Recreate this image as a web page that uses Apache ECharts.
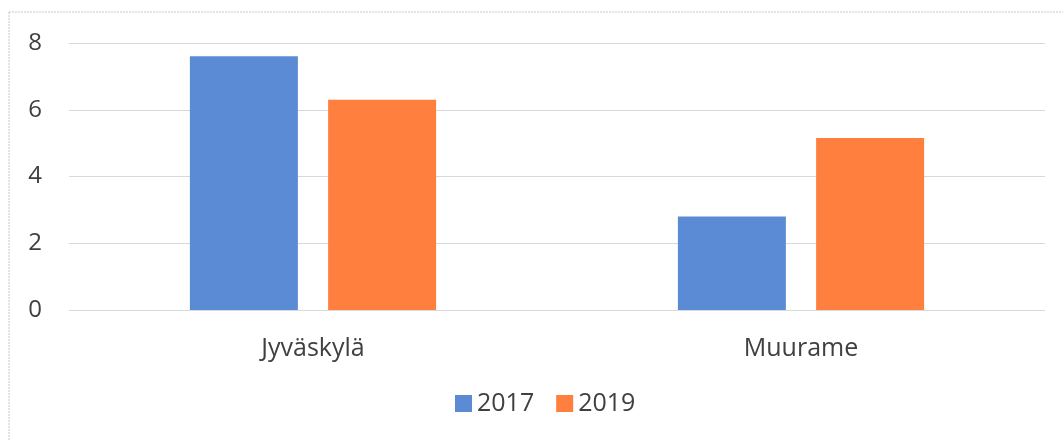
<!DOCTYPE html>
<html>
<head>
<meta charset="utf-8">
<script src="https://cdn.jsdelivr.net/npm/echarts@6/dist/echarts.min.js"></script>
<style>
  html, body { margin: 0; padding: 0; background: #fff; }
  #chart { width: 1063px; height: 441px; }
</style>
</head>
<body>
<div id="chart"></div>
<script>
const categories = ['Jyväskylä', 'Muurame']
const seriesNames = ['2017', '2019']
const values2017 = [7.6, 2.8]
const values2019 = [6.3, 5.15]

const colors = ['#5b8bd5', '#fe7f3e']
const fontFamily = '"Open Sans", Lato, sans-serif'

const chart = echarts.init(document.getElementById('chart'))

const option = {
  backgroundColor: '#fff',
  animation: false,
  textStyle: { fontFamily },
  graphic: [
    {
      type: 'rect',
      shape: { x: 9, y: 12, width: 1100, height: 500 },
      style: { fill: 'none', stroke: '#c8c8c8', lineWidth: 1, lineDash: [2, 1] },
      silent: true
    }
  ],
  grid: {
    left: 69,
    right: 18,
    top: 43,
    bottom: 131
  },
  legend: {
    bottom: 20,
    left: 450,
    itemWidth: 17,
    itemHeight: 17,
    itemGap: 22,
    icon: 'rect',
    textStyle: { color: '#404040', fontSize: 25, fontFamily },
    data: seriesNames
  },
  xAxis: {
    type: 'category',
    data: categories,
    axisLine: { show: false },
    axisTick: { show: false },
    axisLabel: { color: '#404040', fontSize: 25, margin: 26, fontFamily }
  },
  yAxis: {
    type: 'value',
    min: 0,
    max: 8,
    interval: 2,
    axisLine: { show: false },
    axisTick: { show: false },
    splitLine: { lineStyle: { color: '#d9d9d9', width: 1 } },
    axisLabel: { color: '#404040', fontSize: 24, margin: 27, fontFamily }
  },
  series: [
    {
      name: seriesNames[0],
      type: 'bar',
      data: values2017,
      barWidth: 108,
      barGap: '28%',
      itemStyle: { color: colors[0] }
    },
    {
      name: seriesNames[1],
      type: 'bar',
      data: values2019,
      barWidth: 108,
      barGap: '28%',
      itemStyle: { color: colors[1] }
    }
  ]
}

chart.setOption(option)
</script>
</body>
</html>
